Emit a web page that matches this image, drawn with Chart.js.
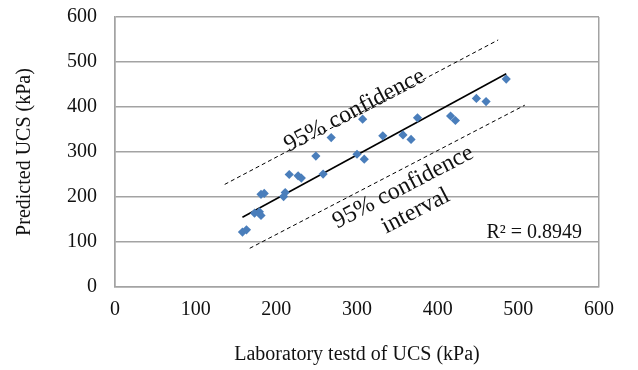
<!DOCTYPE html>
<html>
<head>
<meta charset="utf-8">
<title>Predicted vs laboratory UCS</title>
<script src="https://cdn.jsdelivr.net/npm/chart.js@4/dist/chart.umd.min.js"></script>
<style>
  html, body { margin: 0; padding: 0; background: #fff; }
  #wrap { width: 638px; height: 370px; }
</style>
</head>
<body>
<div id="wrap"><canvas id="chart-ucs" width="638" height="370"></canvas></div>
<script>
/* ── Data (kPa) ──────────────────────────────────────────── */
const labTested = [158, 163, 173, 179, 181, 181, 185, 209, 211, 216, 227, 231, 249, 258,
  268, 300, 307, 309, 332, 357, 367, 375, 416, 422, 448, 460, 485];
const predicted = [122, 127, 164, 167, 159, 206, 208, 201, 210, 250, 247, 242, 291, 251,
  332, 295, 373, 284, 336, 338, 328, 376, 380, 370, 419, 412, 462];

// fitted line and 95% band, end points
const trendX = [158, 485];
const trendY = [155, 474];
const upperX = [136, 475];
const upperY = [228, 549];
const lowerX = [167, 508];
const lowerY = [86, 404];

const axisTicks = [0, 100, 200, 300, 400, 500, 600];
const rSquared = 'R\u00B2 = 0.8949';

const toPoints = (xs, ys) => xs.map((x, i) => ({ x, y: ys[i] }));

const SERIF = '"Liberation Serif", "Times New Roman", serif';
const GRID = '#a3a3a3';

/* ── Text annotations drawn in data space ───────────────── */
const notes = [
  { x: 297, y: 392, angle: -27.5, lines: ['95% confidence'] },
  { x: 365, y: 195, angle: -27.5, lines: ['95% confidence', 'interval'] },
];

const annotate = {
  id: 'annotate',
  afterDatasetsDraw(chart) {
    const { ctx, scales: { x, y }, chartArea } = chart;
    ctx.save();
    ctx.fillStyle = '#111';
    ctx.textAlign = 'center';
    ctx.textBaseline = 'middle';
    ctx.font = '24px ' + SERIF;
    notes.forEach(n => {
      ctx.save();
      ctx.translate(x.getPixelForValue(n.x), y.getPixelForValue(n.y));
      ctx.rotate(n.angle * Math.PI / 180);
      const lh = 27;
      const start = -(n.lines.length - 1) * lh / 2;
      n.lines.forEach((t, i) => ctx.fillText(t, 0, start + i * lh));
      ctx.restore();
    });
    ctx.font = '20px ' + SERIF;
    ctx.textAlign = 'right';
    ctx.textBaseline = 'alphabetic';
    ctx.fillText(rSquared, chartArea.right - 17, y.getPixelForValue(110));
    ctx.restore();
  }
};

/* ── Chart ──────────────────────────────────────────────── */
const edgeOnly = ctx => (ctx.tick && (ctx.tick.value === 0 || ctx.tick.value === 600)) ? GRID : 'rgba(0,0,0,0)';

new Chart(document.getElementById('chart-ucs'), {
  type: 'scatter',
  data: {
    datasets: [
      {
        label: 'UCS',
        data: toPoints(labTested, predicted),
        pointStyle: 'rectRot',
        pointRadius: 4.6,
        backgroundColor: '#4a7ebb',
        borderColor: '#4a7ebb',
        borderWidth: 0,
      },
      {
        label: 'Linear fit',
        data: toPoints(trendX, trendY),
        showLine: true,
        pointRadius: 0,
        borderColor: '#000',
        borderWidth: 1.6,
      },
      {
        label: 'Upper 95%',
        data: toPoints(upperX, upperY),
        showLine: true,
        pointRadius: 0,
        borderColor: '#000',
        borderWidth: 1,
        borderDash: [4, 3],
      },
      {
        label: 'Lower 95%',
        data: toPoints(lowerX, lowerY),
        showLine: true,
        pointRadius: 0,
        borderColor: '#000',
        borderWidth: 1,
        borderDash: [4, 3],
      },
    ],
  },
  options: {
    responsive: false,
    animation: false,
    events: [],
    layout: { padding: { left: 0, top: 17, right: 39, bottom: 0 } },
    plugins: {
      legend: { display: false },
      tooltip: { enabled: false },
    },
    scales: {
      x: {
        type: 'linear',
        min: 0,
        max: 600,
        afterBuildTicks: s => { s.ticks = axisTicks.map(v => ({ value: v })); },
        afterFit: s => { s.height = 83; s.paddingLeft = 0; s.paddingRight = 0; },
        grid: { color: edgeOnly, lineWidth: 1.5, drawTicks: false },
        border: { color: GRID, width: 1.5 },
        ticks: { padding: 11, color: '#111', font: { family: SERIF, size: 20 } },
        title: {
          display: true,
          text: 'Laboratory testd of UCS (kPa)',
          color: '#111',
          font: { family: SERIF, size: 20 },
          padding: { top: 0, bottom: 3 },
        },
      },
      y: {
        type: 'linear',
        min: 0,
        max: 600,
        afterBuildTicks: s => { s.ticks = axisTicks.map(v => ({ value: v })); },
        afterFit: s => { s.width = 115; s.paddingTop = 0; s.paddingBottom = 0; },
        grid: { color: GRID, lineWidth: 1.5, drawTicks: false },
        border: { color: GRID, width: 1.5 },
        ticks: { padding: 18, color: '#111', font: { family: SERIF, size: 20 } },
        title: {
          display: true,
          text: 'Predicted UCS (kPa)',
          color: '#111',
          font: { family: SERIF, size: 20 },
          padding: { top: 13, bottom: 0 },
        },
      },
    },
  },
  plugins: [annotate],
});
</script>
</body>
</html>
